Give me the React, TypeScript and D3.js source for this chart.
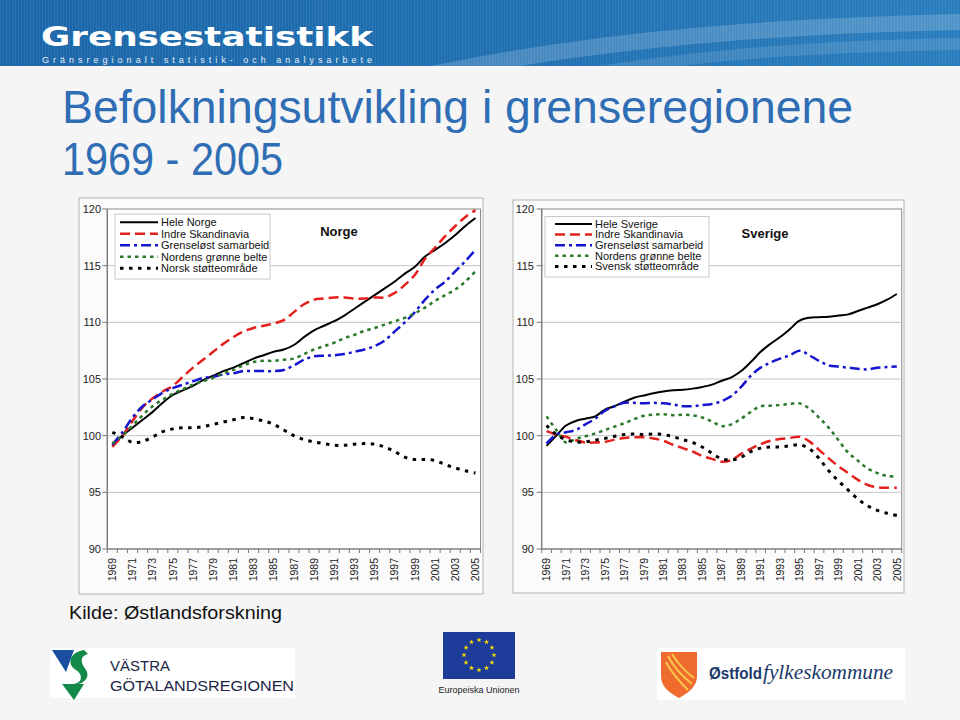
import React from "react";
import * as d3 from "d3";

const years = [
  1969, 1970, 1971, 1972, 1973, 1974, 1975, 1976, 1977, 1978, 1979, 1980, 1981,
  1982, 1983, 1984, 1985, 1986, 1987, 1988, 1989, 1990, 1991, 1992, 1993, 1994,
  1995, 1996, 1997, 1998, 1999, 2000, 2001, 2002, 2003, 2004, 2005,
];
const yTicks = [90, 95, 100, 105, 110, 115, 120];

const norgeLabels = ["Hele Norge", "Indre Skandinavia", "Grenseløst samarbeid", "Nordens grønne belte", "Norsk støtteområde"];
const sverigeLabels = ["Hele Sverige", "Indre Skandinavia", "Grenseløst samarbeid", "Nordens grønne belte", "Svensk støtteområde"];

// Norge
const norgeHele = [99.1, 100.0, 100.7, 101.4, 102.1, 102.9, 103.6, 104.0, 104.4, 104.9, 105.3, 105.7, 106.0, 106.4, 106.8, 107.1, 107.4, 107.6, 108.0, 108.7, 109.3, 109.7, 110.1, 110.6, 111.2, 111.8, 112.4, 113.0, 113.6, 114.3, 114.9, 115.8, 116.4, 117.0, 117.7, 118.5, 119.2];
const norgeIndre = [99.0, 100.0, 101.3, 102.5, 103.3, 103.9, 104.4, 105.2, 106.0, 106.7, 107.4, 108.1, 108.7, 109.2, 109.5, 109.7, 109.9, 110.2, 110.9, 111.6, 112.0, 112.1, 112.2, 112.2, 112.1, 112.1, 112.2, 112.2, 112.6, 113.3, 114.2, 115.6, 116.6, 117.6, 118.5, 119.3, 119.9];
const norgeGrenselost = [99.2, 100.3, 101.6, 102.6, 103.2, 103.8, 104.2, 104.5, 104.8, 105.1, 105.2, 105.4, 105.5, 105.7, 105.7, 105.7, 105.7, 105.8, 106.2, 106.7, 107.0, 107.05, 107.1, 107.2, 107.4, 107.6, 107.9, 108.4, 109.2, 110.0, 110.9, 112.0, 112.9, 113.6, 114.5, 115.4, 116.4];
const norgeNordens = [99.3, 100.0, 100.9, 101.8, 102.6, 103.2, 103.7, 104.1, 104.5, 104.8, 105.1, 105.5, 105.8, 106.2, 106.5, 106.6, 106.6, 106.7, 106.8, 107.2, 107.6, 107.9, 108.2, 108.6, 108.9, 109.25, 109.5, 109.8, 110.1, 110.4, 110.8, 111.3, 111.9, 112.4, 112.9, 113.6, 114.5];
const norgeStotte = [100.3, 99.9, 99.4, 99.5, 99.9, 100.35, 100.6, 100.7, 100.7, 100.8, 101.0, 101.2, 101.4, 101.6, 101.5, 101.3, 101.0, 100.5, 100.0, 99.65, 99.45, 99.3, 99.15, 99.15, 99.25, 99.3, 99.25, 99.0, 98.6, 98.1, 97.9, 97.9, 97.8, 97.45, 97.15, 96.9, 96.7];

// Sverige
const sverigeHele = [99.1, 100.0, 100.9, 101.3, 101.5, 101.7, 102.3, 102.6, 103.0, 103.35, 103.55, 103.75, 103.9, 104.0, 104.05, 104.15, 104.3, 104.5, 104.85, 105.15, 105.7, 106.5, 107.4, 108.1, 108.7, 109.4, 110.15, 110.4, 110.45, 110.5, 110.6, 110.7, 111.0, 111.3, 111.6, 112.0, 112.5];
const sverigeIndre = [100.4, 100.1, 99.9, 99.6, 99.4, 99.4, 99.45, 99.65, 99.8, 99.85, 99.85, 99.75, 99.55, 99.2, 98.9, 98.6, 98.2, 97.95, 97.7, 97.85, 98.4, 98.85, 99.25, 99.55, 99.7, 99.8, 99.9, 99.5, 98.75, 98.0, 97.3, 96.7, 96.1, 95.65, 95.45, 95.4, 95.4];
const sverigeGrenselost = [99.3, 100.1, 100.3, 100.5, 101.0, 101.5, 102.2, 102.6, 102.9, 102.9, 102.85, 102.9, 102.85, 102.75, 102.6, 102.6, 102.7, 102.8, 103.05, 103.5, 104.3, 105.3, 106.0, 106.45, 106.8, 107.1, 107.5, 107.1, 106.6, 106.2, 106.1, 106.0, 105.9, 105.85, 106.0, 106.05, 106.1];
const sverigeNordens = [101.7, 100.5, 99.4, 99.7, 99.95, 100.2, 100.5, 100.8, 101.1, 101.45, 101.75, 101.85, 101.9, 101.8, 101.85, 101.8, 101.6, 101.25, 100.85, 101.0, 101.5, 102.1, 102.6, 102.65, 102.7, 102.8, 102.85, 102.4, 101.6, 100.7, 99.6, 98.5, 97.8, 97.1, 96.7, 96.45, 96.4];
const sverigeStotte = [100.9, 100.1, 99.65, 99.45, 99.45, 99.6, 99.75, 99.95, 100.1, 100.15, 100.1, 100.15, 100.1, 99.9, 99.65, 99.4, 99.0, 98.45, 97.95, 97.85, 98.1, 98.6, 98.9, 99.0, 99.0, 99.1, 99.2, 98.85, 98.0, 96.9, 96.0, 95.2, 94.4, 93.8, 93.4, 93.15, 92.95];

const STYLES = [
  { color: "#000000", width: 2, dash: undefined as string | undefined },
  { color: "#e3201c", width: 2.5, dash: "10 5" },
  { color: "#1515cf", width: 2.5, dash: "10 4 3 4" },
  { color: "#2b7a2b", width: 2.5, dash: "3.5 4" },
  { color: "#000000", width: 3, dash: "3.5 5.5" },
];

const FONT = "'Liberation Sans', Arial, Helvetica, sans-serif";
const Y_TOP = 209;
const Y_BOT = 549;

type PanelProps = {
  frame: { x: number; y: number; w: number; h: number };
  x0: number;
  x1: number;
  labelRight: number;
  legend: { x: number; y: number; w: number; h: number; sx0: number; sx1: number; tx: number; row0: number; dy: number };
  title: { text: string; x: number; y: number };
  series: number[][];
  labels: string[];
};

function Panel({ frame, x0, x1, labelRight, legend, title, series, labels }: PanelProps) {
  const x = d3.scaleBand<string>().domain(years.map(String)).range([x0, x1]).padding(0);
  const y = d3.scaleLinear().domain([90, 120]).range([Y_BOT, Y_TOP]);
  const bw = x.bandwidth();
  const line = d3
    .line<number>()
    .x((_, i) => (x(String(years[i])) as number) + bw / 2)
    .y((d) => y(d))
    .curve(d3.curveCatmullRom.alpha(0.5));
  const boundaries = d3.range(years.length + 1).map((i) => x0 + i * bw);
  return (
    <g>
      <rect x={frame.x} y={frame.y} width={frame.w} height={frame.h} fill="#fbfbfb" stroke="#b4b4b4" strokeWidth={1} />
      <rect x={x0} y={Y_TOP} width={x1 - x0} height={Y_BOT - Y_TOP} fill="#ffffff" stroke="#8a8a8a" strokeWidth={1} />
      {yTicks.filter((t) => t > 90 && t < 120).map((t) => (
        <line key={"g" + t} x1={x0} x2={x1} y1={y(t)} y2={y(t)} stroke="#c4c4c4" strokeWidth={1} />
      ))}
      <line x1={x0} x2={x0} y1={Y_TOP} y2={Y_BOT} stroke="#7a7a7a" strokeWidth={1.2} />
      <line x1={x0} x2={x1} y1={Y_BOT} y2={Y_BOT} stroke="#7a7a7a" strokeWidth={1.2} />
      {yTicks.map((t) => (
        <g key={"yt" + t}>
          <line x1={x0 - 5} x2={x0} y1={y(t)} y2={y(t)} stroke="#7a7a7a" />
          <text x={labelRight} y={y(t)} dy="0.35em" textAnchor="end" fontSize={11} fontFamily={FONT} fill="#222">
            {t}
          </text>
        </g>
      ))}
      {boundaries.map((b, i) => (
        <line key={"xt" + i} x1={b} x2={b} y1={Y_BOT} y2={Y_BOT + 4} stroke="#7a7a7a" />
      ))}
      {years.map((yr, i) =>
        i % 2 === 0 ? (
          <text
            key={"xl" + yr}
            transform={`translate(${(x(String(yr)) as number) + bw / 2},${Y_BOT + 9}) rotate(-90)`}
            textAnchor="end"
            dy="0.35em"
            fontSize={10.5}
            fontFamily={FONT}
            fill="#222"
          >
            {yr}
          </text>
        ) : null
      )}
      {series.map((s, i) => (
        <path
          key={"s" + i}
          d={line(s) || ""}
          fill="none"
          stroke={STYLES[i].color}
          strokeWidth={STYLES[i].width}
          strokeDasharray={STYLES[i].dash}
        />
      ))}
      <rect x={legend.x} y={legend.y} width={legend.w} height={legend.h} fill="#ffffff" stroke="#c8c8c8" />
      {labels.map((lab, i) => {
        const ry = legend.row0 + i * legend.dy;
        return (
          <g key={"lg" + i}>
            <line x1={legend.sx0} x2={legend.sx1} y1={ry} y2={ry} stroke={STYLES[i].color} strokeWidth={STYLES[i].width} strokeDasharray={STYLES[i].dash} />
            <text x={legend.tx} y={ry} dy="0.35em" fontSize={11} fontFamily={FONT} fill="#111">
              {lab}
            </text>
          </g>
        );
      })}
      <text x={title.x} y={title.y} dy="0.35em" textAnchor="middle" fontSize={13} fontWeight="bold" fontFamily={FONT} fill="#111">
        {title.text}
      </text>
    </g>
  );
}

function Stars() {
  const cx = 479;
  const cy = 655;
  const r = 15;
  const star = d3.symbol().type(d3.symbolStar).size(9)();
  return (
    <g>
      {d3.range(12).map((i) => {
        const a = (i / 12) * Math.PI * 2;
        return <path key={i} d={star || ""} transform={`translate(${cx + r * Math.sin(a)},${cy - r * Math.cos(a)})`} fill="#ffdd00" />;
      })}
    </g>
  );
}

export default function App() {
  return (
    <svg width={960} height={720} style={{ position: "absolute", left: 0, top: 0, display: "block" }} xmlns="http://www.w3.org/2000/svg">
      <defs>
        <linearGradient id="bannerGrad" x1="0" y1="0" x2="1" y2="0">
          <stop offset="0" stopColor="#1a66a8" />
          <stop offset="0.5" stopColor="#1f6fb1" />
          <stop offset="1" stopColor="#2a7dbd" />
        </linearGradient>
        <pattern id="stripes" width="3" height="3" patternUnits="userSpaceOnUse">
          <rect width="1" height="3" fill="#ffffff" opacity="0.07" />
        </pattern>
      </defs>
      <rect x={0} y={0} width={960} height={720} fill="#f5f5f5" />
      {/* banner */}
      <rect x={0} y={0} width={960} height={66} fill="url(#bannerGrad)" />
      <path d="M430,66 C560,40 700,20 960,14 L960,30 C760,34 620,50 520,66 Z" fill="#ffffff" opacity="0.18" />
      <path d="M600,66 C700,50 820,40 960,38 L960,50 C840,52 740,58 680,66 Z" fill="#ffffff" opacity="0.12" />
      <rect x={0} y={0} width={960} height={66} fill="url(#stripes)" />
      <text x={41} y={46} fontSize={26} fontWeight={900} fontFamily="'DejaVu Sans', Arial, sans-serif" fill="#ffffff" textLength={332} lengthAdjust="spacingAndGlyphs">
        Grensestatistikk
      </text>
      <text x={42} y={62.5} fontSize={9} fontFamily={FONT} fill="#e4eef8" textLength={330} lengthAdjust="spacing">
        Gränsregionalt statistik- och analysarbete
      </text>
      {/* title */}
      <text x={62} y={123} fontSize={46} fontFamily={FONT} fill="#2f6db4" textLength={791} lengthAdjust="spacingAndGlyphs">
        Befolkningsutvikling i grenseregionene
      </text>
      <text x={62} y={175} fontSize={46} fontFamily={FONT} fill="#2f6db4" textLength={221} lengthAdjust="spacingAndGlyphs">
        1969 - 2005
      </text>

      <Panel
        frame={{ x: 79, y: 198, w: 404, h: 396 }}
        x0={107.3}
        x1={480.5}
        labelRight={101}
        legend={{ x: 115, y: 214, w: 155, h: 65, sx0: 120, sx1: 158, tx: 161, row0: 222.3, dy: 11.5 }}
        title={{ text: "Norge", x: 339, y: 231 }}
        series={[norgeHele, norgeIndre, norgeGrenselost, norgeNordens, norgeStotte]}
        labels={norgeLabels}
      />
      <Panel
        frame={{ x: 513, y: 200, w: 391, h: 393 }}
        x0={541.7}
        x1={901.7}
        labelRight={534}
        legend={{ x: 545, y: 216.5, w: 164, h: 60.5, sx0: 555, sx1: 592, tx: 595, row0: 224, dy: 10.6 }}
        title={{ text: "Sverige", x: 765, y: 233 }}
        series={[sverigeHele, sverigeIndre, sverigeGrenselost, sverigeNordens, sverigeStotte]}
        labels={sverigeLabels}
      />

      <text x={69} y={619} fontSize={19} fontFamily={FONT} fill="#111" textLength={213} lengthAdjust="spacingAndGlyphs">
        Kilde: Østlandsforskning
      </text>

      {/* Västra Götalandsregionen logo */}
      <rect x={50} y={648} width={245} height={50} fill="#ffffff" />
      <path d="M52,650 L74,650 L66,672 Z" fill="#1a4fa0" />
      <path d="M84,650 C70,652 66,664 76,670 C84,675 82,684 72,684 L66,684 C78,688 92,680 86,670 C80,662 80,656 88,654 Z" fill="#138a4a" />
      <path d="M62,684 L84,684 L74,700 Z" fill="#138a4a" />
      <text x={110} y={671} fontSize={15} fontFamily={FONT} fill="#1c2547" textLength={60} lengthAdjust="spacingAndGlyphs">
        VÄSTRA
      </text>
      <text x={110} y={691} fontSize={15} fontFamily={FONT} fill="#1c2547" textLength={184} lengthAdjust="spacingAndGlyphs">
        GÖTALANDSREGIONEN
      </text>

      {/* EU logo */}
      <rect x={443} y={632} width={72} height={47} fill="#1d3b98" />
      <Stars />
      <text x={479} y={693} textAnchor="middle" fontSize={9} fontFamily={FONT} fill="#222">
        Europeiska Unionen
      </text>

      {/* Østfold fylkeskommune logo */}
      <rect x={657} y={648} width={248} height={52} fill="#ffffff" />
      <path d="M661,652 L697,652 L697,676 C697,688 686,694 679,698 C672,694 661,688 661,676 Z" fill="#ef6b2d" />
      <path d="M668,656 C674,668 682,676 692,684 M672,654 C678,664 686,672 694,678 M666,662 C672,674 680,682 688,690" stroke="#f7c64a" strokeWidth={2} fill="none" />
      <text x={709} y={679} fontSize={17} fontWeight="bold" fontFamily={FONT} fill="#1b3a6b" textLength={53} lengthAdjust="spacingAndGlyphs">
        Østfold
      </text>
      <text x={763} y={679} fontSize={21} fontStyle="italic" fontFamily="'Liberation Serif', 'DejaVu Serif', serif" fill="#1b3a6b" textLength={130} lengthAdjust="spacingAndGlyphs">
        fylkeskommune
      </text>
    </svg>
  );
}
